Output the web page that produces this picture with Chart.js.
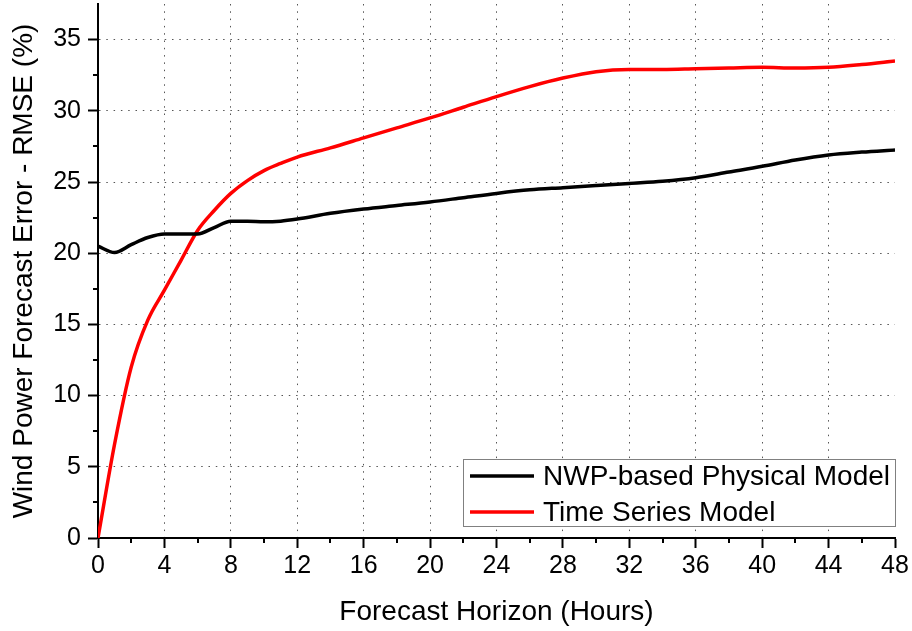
<!DOCTYPE html>
<html>
<head>
<meta charset="utf-8">
<script src="https://cdn.jsdelivr.net/npm/chart.js@4"></script>
<style>
  html, body { margin: 0; padding: 0; background: #fff; }
  #wrap { width: 912px; height: 631px; }
</style>
</head>
<body>
<div id="wrap"><canvas id="myChart" width="912" height="631"></canvas></div>
<script>
// forecast horizon (hours) and RMSE (%) of both models
const hours = [0, 1, 2, 3, 4, 5, 6, 7, 8, 9, 10, 11, 12, 14, 16, 18, 20, 22, 24, 26, 28, 30, 32, 34, 36, 38, 40, 42, 44, 46, 48];
const nwpError = [20.5, 20.05, 20.6, 21.1, 21.35, 21.35, 21.35, 21.8, 22.25, 22.25, 22.2, 22.25, 22.4, 22.8, 23.1, 23.35, 23.6, 23.9, 24.2, 24.45, 24.6, 24.75, 24.9, 25.05, 25.3, 25.7, 26.1, 26.55, 26.9, 27.1, 27.25];
const tsError = [0, 6.6, 12.0, 15.3, 17.4, 19.5, 21.6, 23.0, 24.2, 25.1, 25.8, 26.3, 26.75, 27.4, 28.1, 28.8, 29.5, 30.25, 31.0, 31.7, 32.3, 32.75, 32.9, 32.9, 32.95, 33.0, 33.05, 33.0, 33.05, 33.25, 33.5];
const seriesNames = ["NWP-based Physical Model", "Time Series Model"];
const seriesColors = ["#000000", "#ff0000"];

const FONT = "'Liberation Sans', Arial, sans-serif";

const toPoints = (ys) => hours.map((h, i) => ({ x: h, y: ys[i] }));

// small outward ticks between the labelled ones
const minorTicks = {
    id: 'minorTicks',
    afterDraw(chart) {
        const c = chart.ctx;
        const xs = chart.scales.x, ys = chart.scales.y;
        c.save();
        c.strokeStyle = '#000';
        c.lineWidth = 2;
        c.beginPath();
        for (let h = 2; h < 48; h += 4) {
            const px = Math.round(xs.getPixelForValue(h));
            c.moveTo(px, xs.top);
            c.lineTo(px, xs.top + 5);
        }
        for (let v = 2.5; v < 37.5; v += 5) {
            const py = Math.round(ys.getPixelForValue(v));
            c.moveTo(ys.right, py);
            c.lineTo(ys.right - 5, py);
        }
        c.stroke();
        c.restore();
    }
};

// legend box sitting inside the plot, bottom right
const insideLegend = {
    id: 'insideLegend',
    afterDatasetsDraw(chart) {
        const c = chart.ctx;
        const area = chart.chartArea;
        const boxW = 433, boxH = 68;
        const left = area.right + 1 - boxW;
        const top = area.bottom - 11 - boxH;
        c.save();
        c.fillStyle = '#fff';
        c.fillRect(left, top, boxW, boxH);
        c.strokeStyle = '#808080';
        c.lineWidth = 1;
        c.strokeRect(left + 0.5, top + 0.5, boxW - 1, boxH - 1);
        c.font = '28px ' + FONT;
        c.textBaseline = 'middle';
        chart.data.datasets.forEach((ds, i) => {
            const cy = top + 17 + i * 36;
            c.strokeStyle = ds.borderColor;
            c.lineWidth = 3.5;
            c.beginPath();
            c.moveTo(left + 7, cy);
            c.lineTo(left + 71, cy);
            c.stroke();
            c.fillStyle = '#000';
            c.fillText(ds.label, left + 80, cy + 1);
        });
        c.restore();
    }
};

const ctx = document.getElementById('myChart').getContext('2d');

const gridDots = {
    lineWidth: 1,
    tickLength: 10,
    tickWidth: 2,
    tickColor: '#000'
};

new Chart(ctx, {
    type: 'line',
    data: {
        datasets: [
            {
                label: seriesNames[0],
                data: toPoints(nwpError),
                borderColor: seriesColors[0],
                borderWidth: 3.5,
                pointRadius: 0,
                cubicInterpolationMode: 'monotone'
            },
            {
                label: seriesNames[1],
                data: toPoints(tsError),
                borderColor: seriesColors[1],
                borderWidth: 3.5,
                pointRadius: 0,
                cubicInterpolationMode: 'monotone'
            }
        ]
    },
    options: {
        responsive: false,
        animation: false,
        layout: { padding: { top: 4, right: 17, left: 0, bottom: 0 } },
        plugins: {
            legend: { display: false },
            tooltip: { enabled: false }
        },
        scales: {
            x: {
                type: 'linear',
                min: 0,
                max: 48,
                afterFit: (scale) => {
                    scale.height = 93;
                    scale.paddingLeft = 0;
                    scale.paddingRight = 0;
                },
                ticks: {
                    stepSize: 4,
                    padding: 3,
                    color: '#000',
                    font: { family: FONT, size: 25 },
                    maxRotation: 0
                },
                grid: Object.assign({}, gridDots, {
                    color: (c) => (c.tick && (c.tick.value === 0 || c.tick.value === 48)) ? 'rgba(0,0,0,0)' : '#555'
                }),
                border: { display: true, color: '#000', width: 2, dash: [1.5, 5.8] },
                title: {
                    display: true,
                    text: 'Forecast Horizon (Hours)',
                    color: '#000',
                    font: { family: FONT, size: 28 },
                    padding: { top: 0, bottom: 2 }
                }
            },
            y: {
                min: 0,
                max: 37.5,
                afterFit: (scale) => {
                    scale.width = 98;
                    scale.paddingTop = 0;
                    scale.paddingBottom = 0;
                },
                afterBuildTicks: (scale) => {
                    scale.ticks = scale.ticks.filter(t => t.value % 5 === 0);
                },
                ticks: {
                    stepSize: 5,
                    padding: 7,
                    color: '#000',
                    font: { family: FONT, size: 25 }
                },
                grid: Object.assign({}, gridDots, {
                    color: (c) => (c.tick && c.tick.value === 0) ? 'rgba(0,0,0,0)' : '#555'
                }),
                border: { display: true, color: '#000', width: 2, dash: [1.5, 5.8] },
                title: {
                    display: true,
                    text: 'Wind Power Forecast Error - RMSE (%)',
                    color: '#000',
                    font: { family: FONT, size: 28 },
                    padding: { top: 7, bottom: 0 }
                }
            }
        }
    },
    plugins: [minorTicks, insideLegend]
});
</script>
</body>
</html>
